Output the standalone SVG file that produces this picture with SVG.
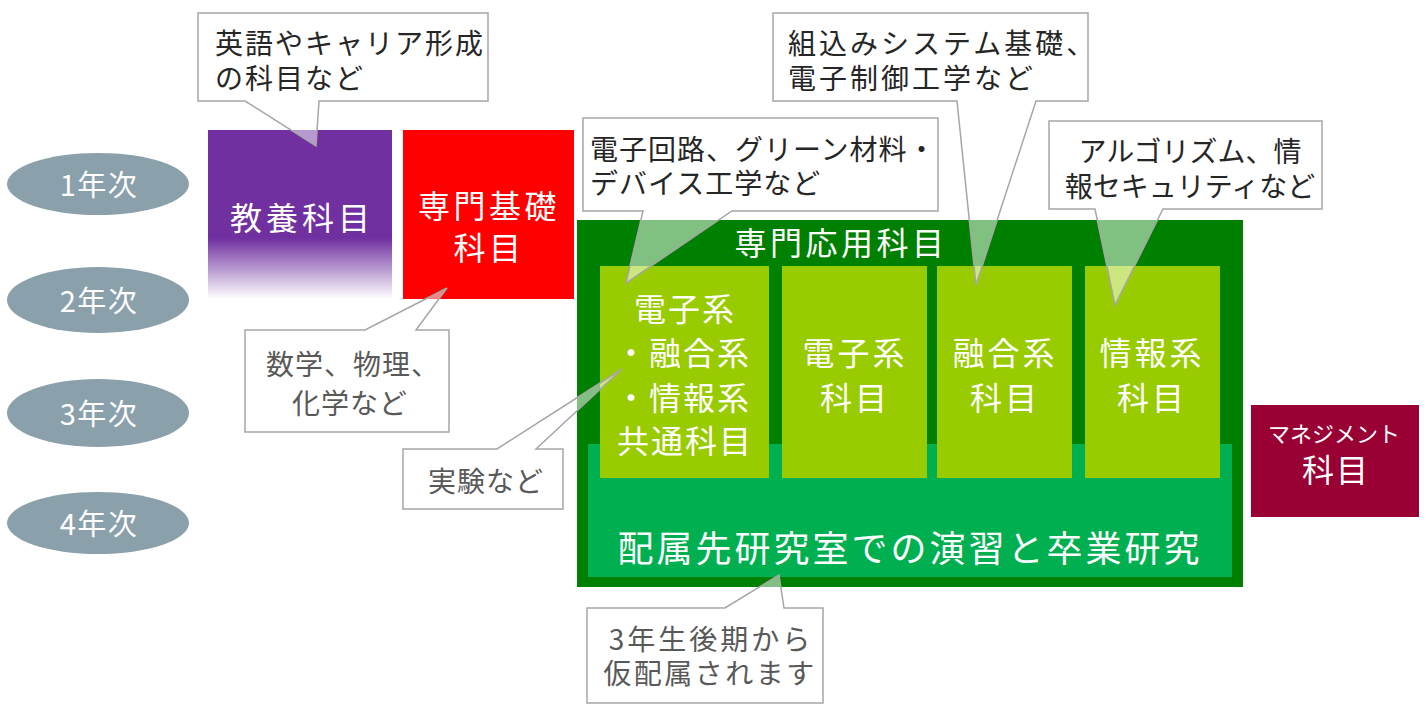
<svg xmlns="http://www.w3.org/2000/svg" width="1428" height="714" viewBox="0 0 1428 714">
<style>
text{font-family:"Noto Sans CJK JP","Noto Sans",sans-serif;dominant-baseline:central}
.w{fill:#fff}
.yr{font-size:29px;letter-spacing:1.5px;text-anchor:middle}
.big{font-size:32px;letter-spacing:3.5px;text-anchor:middle}
.co{fill:#fff;fill-opacity:0.5;stroke:#A6A6A6;stroke-width:1.5}
.ct{font-size:28px;fill:#262626}
.cg{font-size:28px;fill:#595959;text-anchor:middle}
.yrshape{fill:#8AA0AB}
</style>
<defs>
<linearGradient id="pg" x1="0" y1="0" x2="0" y2="1">
<stop offset="0" stop-color="#7030A0"/>
<stop offset="0.64" stop-color="#7030A0"/>
<stop offset="1" stop-color="#FFFFFF"/>
</linearGradient>
</defs>
<g id="year1"><ellipse class="yrshape" cx="98" cy="184" rx="91" ry="31"/><text class="w yr" x="99" y="183">1年次</text></g>
<g id="year2"><ellipse class="yrshape" cx="98" cy="300" rx="91" ry="33"/><text class="w yr" x="99" y="299">2年次</text></g>
<g id="year3"><ellipse class="yrshape" cx="98" cy="413" rx="91" ry="34"/><text class="w yr" x="99" y="412">3年次</text></g>
<g id="year4"><ellipse class="yrshape" cx="98" cy="523" rx="91" ry="31"/><text class="w yr" x="99" y="522">4年次</text></g>
<g id="kyoyo"><rect x="208" y="130" width="184" height="169" fill="url(#pg)"/><text class="w big" x="302" y="216" style="letter-spacing:4px">教養科目</text></g>
<g id="senmon-kiso"><rect x="403" y="130" width="171" height="169" fill="#FF0000"/><text class="w big" y="204"><tspan x="489">専門基礎</tspan><tspan x="489" dy="42">科目</tspan></text></g>
<g id="senmon-oyo">
<rect x="577" y="220" width="666" height="367" fill="#008000"/>
<rect x="588" y="444" width="644" height="133" fill="#00B050"/>
<text class="w big" x="841" y="241">専門応用科目</text>
<text class="w" x="910" y="546" style="font-size:36px;letter-spacing:3px;text-anchor:middle">配属先研究室での演習と卒業研究</text>
</g>
<g id="col-common"><rect x="600" y="266" width="169" height="212" fill="#99CC00"/>
<text class="w big" y="307" style="letter-spacing:2px"><tspan x="685">電子系</tspan><tspan x="683" dy="44">・融合系</tspan><tspan x="683" dy="45">・情報系</tspan><tspan x="685" dy="43">共通科目</tspan></text></g>
<g id="col-denshi"><rect x="782" y="266" width="145" height="212" fill="#99CC00"/>
<text class="w big" y="351" style="letter-spacing:3px"><tspan x="855">電子系</tspan><tspan x="855" dy="45">科目</tspan></text></g>
<g id="col-yugo"><rect x="937" y="266" width="135" height="212" fill="#99CC00"/>
<text class="w big" y="351" style="letter-spacing:3px"><tspan x="1005">融合系</tspan><tspan x="1005" dy="45">科目</tspan></text></g>
<g id="col-joho"><rect x="1085" y="266" width="135" height="212" fill="#99CC00"/>
<text class="w big" y="351" style="letter-spacing:3px"><tspan x="1152">情報系</tspan><tspan x="1152" dy="45">科目</tspan></text></g>
<g id="management"><rect x="1251" y="405" width="168" height="112" fill="#990033"/>
<text class="w" x="1334" y="432" style="font-size:22px;text-anchor:middle">マネジメント</text>
<text class="w big" x="1336" y="468" style="letter-spacing:2px">科目</text></g>
<g id="connectors"/>
<g id="callout-kyoyo"><path class="co" d="M198,13 H488 V101 H319 L316,146 L245,101 H198 Z"/>
<text class="ct" y="42" style="letter-spacing:2px"><tspan x="215">英語やキャリア形成</tspan><tspan x="215" dy="35">の科目など</tspan></text></g>
<g id="callout-kiso"><path class="co" d="M245,330 H365 L447,288 L416,330 H449 V432 H245 Z"/>
<text class="cg" y="363" style="letter-spacing:1px"><tspan x="353">数学、物理、</tspan><tspan x="350" dy="39">化学など</tspan></text></g>
<g id="callout-jikken"><path class="co" d="M403,449 H497 L622,369 L536,449 H563 V509 H403 Z"/>
<text class="cg" x="486" y="480" style="letter-spacing:1px">実験など</text></g>
<g id="callout-denshi"><path class="co" d="M583,118 H938 V211 H732 L626,283 L643,211 H583 Z"/>
<text class="ct" y="148" style="letter-spacing:1px"><tspan x="590">電子回路、グリーン材料・</tspan><tspan x="590" dy="34">デバイス工学など</tspan></text></g>
<g id="callout-kumikomi"><path class="co" d="M773,13 H1088 V101 H1036 L976,285 L957,101 H773 Z"/>
<text class="ct" y="42" style="letter-spacing:3px"><tspan x="788">組込みシステム基礎、</tspan><tspan x="788" dy="35">電子制御工学など</tspan></text></g>
<g id="callout-joho"><path class="co" d="M1049,121 H1322 V209 H1163 L1115,305 L1095,209 H1049 Z"/>
<text class="ct" y="150" style="text-anchor:middle"><tspan x="1190">アルゴリズム、情</tspan><tspan x="1190" dy="35">報セキュリティなど</tspan></text></g>
<g id="callout-haizoku"><path class="co" d="M587,608 H725 L779,575 L784,608 H823 V703 H587 Z"/>
<text class="cg" y="638" style="letter-spacing:3px"><tspan x="711">3年生後期から</tspan><tspan x="710" dy="34" style="letter-spacing:2.5px">仮配属されます</tspan></text></g>
</svg>
